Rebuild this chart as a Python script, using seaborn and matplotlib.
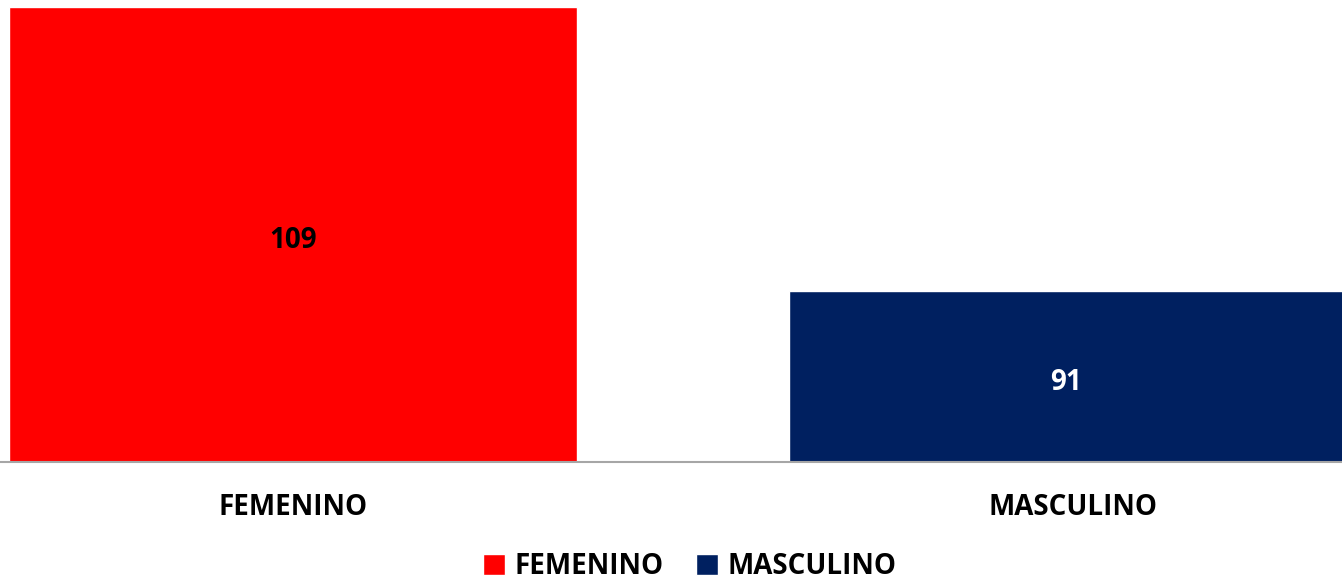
import matplotlib
matplotlib.use("Agg")
import matplotlib.pyplot as plt
import seaborn as sns
import pandas as pd

# data
categories = ["FEMENINO", "MASCULINO"]
counts = [109, 91]
bar_colors = ["#FF0000", "#002060"]
label_colors = ["black", "white"]

sns.set_theme(style="white")
plt.rcParams["font.family"] = ["Open Sans", "DejaVu Sans"]

df = pd.DataFrame({"genero": categories, "total": counts})

fig = plt.figure(figsize=(13.42, 5.83), dpi=100)
ax = fig.add_axes([0.0, 1 - 462 / 583, 1.0, (462 - 7) / 583])

sns.barplot(data=df, x="genero", y="total", hue="genero",
            palette=bar_colors, width=0.728, dodge=False, legend=True,
            saturation=1, ax=ax)

# value labels in the middle of each bar (nudged down a little)
for container, col in zip(ax.containers, label_colors):
    anns = ax.bar_label(container, label_type="center", color=col,
                        fontsize=20, fontweight="bold")
    for a in anns:
        a.xyann = (0, -4.5)

ax.set_ylim(80.2, 109)
ax.set_xlim(-0.3756, 1.345)
ax.set_xlabel("")
ax.set_ylabel("")
ax.set_yticks([])
ax.tick_params(axis="x", length=0, pad=22, labelsize=20, labelcolor="black")
for lbl in ax.get_xticklabels():
    lbl.set_fontweight("bold")

for side in ["top", "right", "left"]:
    ax.spines[side].set_visible(False)
ax.spines["bottom"].set_color("#A6A6A6")
ax.spines["bottom"].set_linewidth(1.5)

sns.move_legend(ax, "center", bbox_to_anchor=(0.514, (462 - 567) / 455),
                bbox_transform=ax.transAxes, ncol=2, frameon=False, title=None,
                fontsize=20, handlelength=0.8, handleheight=0.8,
                handletextpad=0.35, columnspacing=1.15)
for t in ax.get_legend().get_texts():
    t.set_fontweight("bold")
    t.set_color("black")

fig.savefig("out.png", dpi=100)
